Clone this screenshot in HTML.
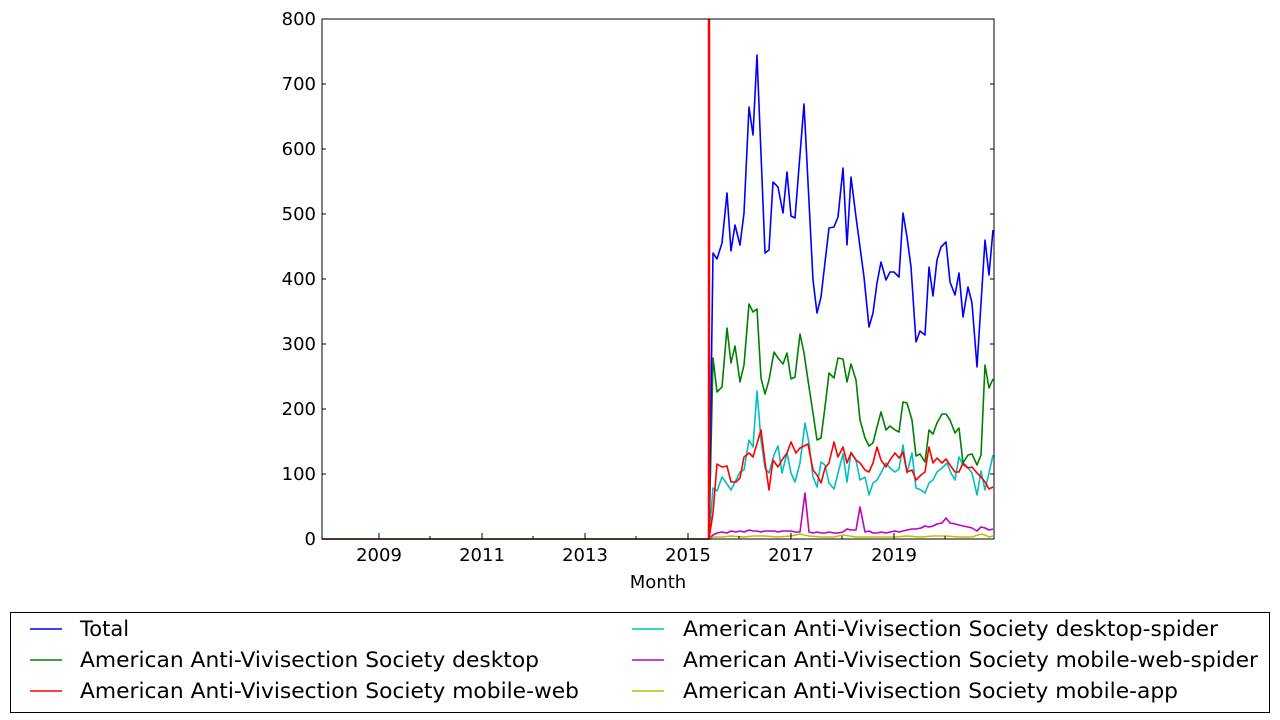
<!DOCTYPE html>
<html><head><meta charset="utf-8"><style>
body{margin:0;background:#fff;}
svg{display:block;font-family:"DejaVu Sans","Liberation Sans",sans-serif;}
</style></head><body>
<svg width="1280" height="720" viewBox="0 0 1280 720" xmlns="http://www.w3.org/2000/svg">
<rect width="1280" height="720" fill="#fff"/>
<g fill="none" stroke-width="1.6" stroke-linejoin="round">
<polyline stroke="#00bfbf" points="322,539 709,539 713,488 717,491 722,477 727,484 731,490 736,480 740,472 744,470 749,440 753,447 757,391 761,440 765,468 769,473 774,455 778,446 782,473 787,453 791,473 795,482 800,463 805,423 809,443 813,477 817,487 821,462 825,465 829,483 834,489 838,473 843,454 847,482 851,452 856,460 860,480 865,477 869,495 873,483 877,480 881,473 886,463 890,468 895,472 899,469 903,445 907,473 912,453 916,488 921,490 925,493 929,483 933,480 937,472 942,468 947,463 951,473 955,480 959,457 963,465 968,468 972,473 977,495 981,471 985,490 989,473 993,455"/>
<polyline stroke="#ff0000" points="322,539 709,539 713,513 717,464 722,467 727,466 731,482 736,482 740,478 744,457 749,453 753,457 761,430 765,462 769,490 773,460 778,467 782,460 787,453 791,442 796,453 800,448 808,444 813,470 817,475 821,483 825,468 829,463 834,442 838,457 843,447 847,463 851,453 856,460 860,463 865,470 869,472 873,463 877,447 881,460 886,467 890,460 895,453 899,458 903,452 907,472 912,470 916,480 921,475 925,472 929,447 933,463 937,458 942,463 946,459 950,465 955,472 959,472 963,463 968,468 972,467 977,473 981,477 985,482 989,489 993,487"/>
<polyline stroke="#008000" points="322,539 709,539 713,358 717,392 722,387 727,328 731,363 735,346 740,382 744,365 749,304 753,312 757,309 761,378 765,394 769,380 774,352 778,358 783,364 787,353 791,379 795,377 800,334 804,353 809,387 813,413 817,440 821,438 825,407 829,373 834,378 838,358 843,359 847,382 851,364 856,380 860,420 865,438 869,446 873,443 877,427 881,412 886,430 890,426 895,430 899,432 903,402 907,403 912,420 916,456 920,454 925,462 929,430 933,434 937,423 942,414 946,414 950,420 955,433 959,428 963,463 968,455 972,454 977,465 981,455 985,365 989,388 993,379"/>
<polyline stroke="#0000ff" points="322,539 709,539 713,253 717,259 722,243 727,193 731,251 735,225 740,245 744,213 749,107 753,135 757,55 765,253 769,250 773,182 778,187 783,213 787,172 791,216 795,218 804,104 813,280 817,313 821,297 829,228 834,227 838,217 843,168 847,245 851,177 856,217 860,247 864,277 869,327 873,313 877,283 881,262 886,280 890,272 894,272 899,277 903,213 907,237 911,267 916,342 920,331 925,335 929,267 933,296 937,260 941,247 946,242 950,282 955,295 959,273 963,317 968,287 972,303 977,367 985,240 989,275 993,230"/>
<polyline stroke="#bf00bf" points="322,539 709,539 713,535 717,533 722,532 727,533 731,531 736,532 740,531 744,532 749,530 753,531 757,531 761,532 765,531 769,531 774,531 778,532 782,531 787,531 791,531 795,532 800,532 805,493 809,532 813,533 817,532 821,533 825,533 829,532 834,533 838,533 843,532 847,529 851,530 856,530 860,507 865,532 869,531 873,533 877,533 881,532 886,533 890,532 895,531 899,532 903,531 907,530 912,529 916,529 921,528 925,526 929,527 933,526 937,524 942,523 946,518 950,523 955,524 959,525 963,526 968,527 972,528 977,531 981,527 985,528 989,530 993,529"/>
<polyline stroke="#bfbf00" points="322,539 709,539 713,537 722,537 731,536 744,537 753,536 765,536 778,537 791,536 800,534 809,536 821,537 834,537 843,535 856,537 869,537 881,537 895,537 907,536 920,537 933,536 946,536 959,537 972,537 981,534 985,535 989,537 993,536"/>
</g>
<line x1="709" y1="19" x2="709" y2="539" stroke="#ff0000" stroke-width="2.5"/>
<rect x="322" y="19" width="672" height="520" fill="none" stroke="#000" stroke-width="1"/>
<g stroke="#000" stroke-width="1">
<line x1="322" y1="539" x2="326" y2="539"/><line x1="322" y1="474" x2="326" y2="474"/><line x1="322" y1="409" x2="326" y2="409"/><line x1="322" y1="344" x2="326" y2="344"/><line x1="322" y1="279" x2="326" y2="279"/><line x1="322" y1="214" x2="326" y2="214"/><line x1="322" y1="149" x2="326" y2="149"/><line x1="322" y1="84" x2="326" y2="84"/>
<line x1="994" y1="474" x2="990" y2="474"/><line x1="994" y1="409" x2="990" y2="409"/><line x1="994" y1="344" x2="990" y2="344"/><line x1="994" y1="279" x2="990" y2="279"/><line x1="994" y1="214" x2="990" y2="214"/><line x1="994" y1="149" x2="990" y2="149"/><line x1="994" y1="84" x2="990" y2="84"/>
<line x1="379" y1="539" x2="379" y2="533"/><line x1="482" y1="539" x2="482" y2="533"/><line x1="585" y1="539" x2="585" y2="533"/><line x1="688" y1="539" x2="688" y2="533"/><line x1="791" y1="539" x2="791" y2="533"/><line x1="894" y1="539" x2="894" y2="533"/>
<line x1="430" y1="539" x2="430" y2="536"/><line x1="533" y1="539" x2="533" y2="536"/><line x1="636" y1="539" x2="636" y2="536"/><line x1="739" y1="539" x2="739" y2="536"/><line x1="842" y1="539" x2="842" y2="536"/><line x1="945" y1="539" x2="945" y2="536"/>
</g>
<g font-size="18" fill="#000" text-anchor="end">
<text x="316" y="545">0</text><text x="316" y="480">100</text><text x="316" y="415">200</text><text x="316" y="350">300</text><text x="316" y="285">400</text><text x="316" y="220">500</text><text x="316" y="155">600</text><text x="316" y="90">700</text><text x="316" y="25">800</text>
</g>
<g font-size="18" fill="#000" text-anchor="middle">
<text x="379" y="561">2009</text><text x="482" y="561">2011</text><text x="585" y="561">2013</text><text x="688" y="561">2015</text><text x="791" y="561">2017</text><text x="894" y="561">2019</text>
<text x="658" y="588">Month</text>
</g>
<rect x="10.5" y="612.5" width="1259" height="100" fill="#fff" stroke="#000" stroke-width="1"/>
<g stroke-width="1.6">
<line x1="30" y1="629" x2="62" y2="629" stroke="#0000ff"/>
<line x1="30" y1="660" x2="62" y2="660" stroke="#008000"/>
<line x1="30" y1="691" x2="62" y2="691" stroke="#ff0000"/>
<line x1="632" y1="629" x2="664" y2="629" stroke="#00bfbf"/>
<line x1="632" y1="660" x2="664" y2="660" stroke="#bf00bf"/>
<line x1="632" y1="691" x2="664" y2="691" stroke="#bfbf00"/>
</g>
<g font-size="21" fill="#000">
<text x="80" y="636">Total</text>
<text x="80" y="667" textLength="459" lengthAdjust="spacingAndGlyphs">American Anti-Vivisection Society desktop</text>
<text x="80" y="698" textLength="499" lengthAdjust="spacingAndGlyphs">American Anti-Vivisection Society mobile-web</text>
<text x="683" y="636" textLength="535" lengthAdjust="spacingAndGlyphs">American Anti-Vivisection Society desktop-spider</text>
<text x="683" y="667" textLength="575" lengthAdjust="spacingAndGlyphs">American Anti-Vivisection Society mobile-web-spider</text>
<text x="683" y="698" textLength="495" lengthAdjust="spacingAndGlyphs">American Anti-Vivisection Society mobile-app</text>
</g>
</svg>
</body></html>
